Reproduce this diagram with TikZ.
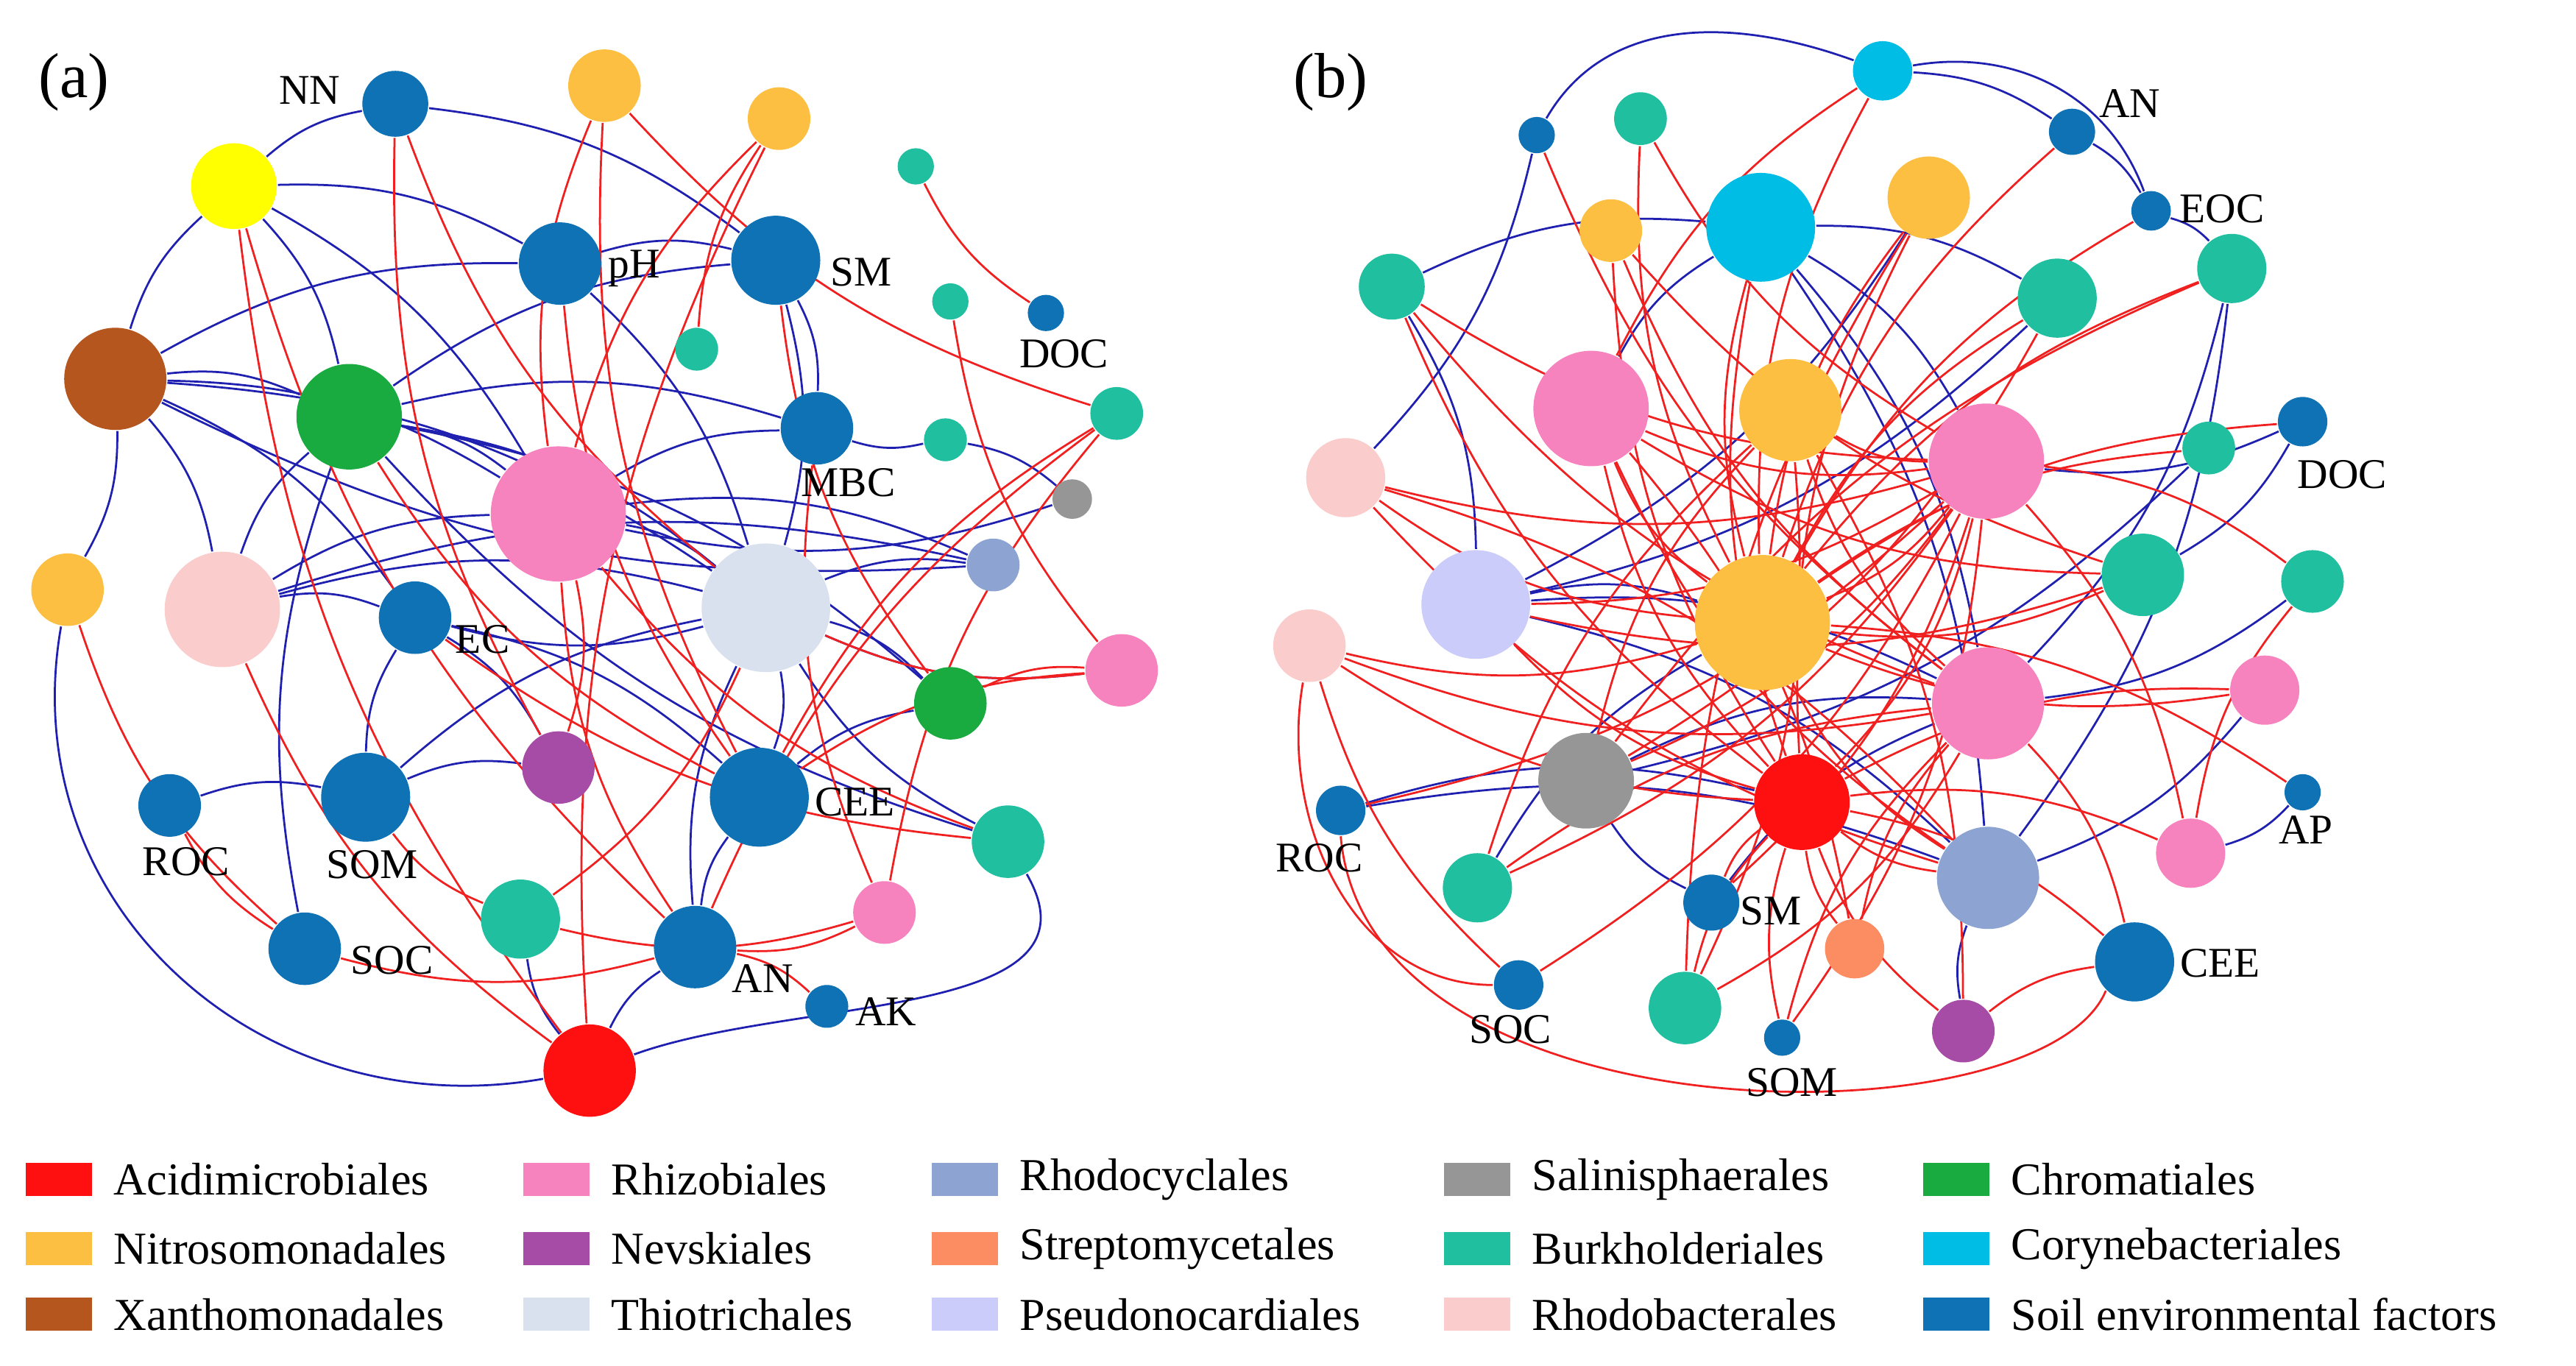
\documentclass[tikz,border=0pt]{standalone}
\usepackage{fontspec}
\setmainfont{Liberation Serif}
\usetikzlibrary{backgrounds}
\definecolor{cAci}{HTML}{FF1010}
\definecolor{cNit}{HTML}{FDBF41}
\definecolor{cXan}{HTML}{B5561E}
\definecolor{cRhi}{HTML}{F783BE}
\definecolor{cNev}{HTML}{A64CA6}
\definecolor{cThi}{HTML}{D9E1EF}
\definecolor{cRhc}{HTML}{8DA3D2}
\definecolor{cStr}{HTML}{FC8D62}
\definecolor{cPse}{HTML}{CCCCFA}
\definecolor{cSal}{HTML}{969696}
\definecolor{cBur}{HTML}{1FBFA0}
\definecolor{cRhb}{HTML}{FBCCCC}
\definecolor{cChr}{HTML}{1AAB40}
\definecolor{cCor}{HTML}{00BDE6}
\definecolor{cSoil}{HTML}{0E72B5}
\definecolor{cYel}{HTML}{FFFF00}
\definecolor{eR}{HTML}{F02020}
\definecolor{eB}{HTML}{2020B0}
\tikzset{
 n/.style 2 args={circle,fill=#1,minimum size={#2*0.02cm},inner sep=0pt},
 lab/.style={font=\fontsize{7.3}{8}\selectfont,inner sep=0pt},
 er/.style={draw=eR,line width=0.35pt},
 eb/.style={draw=eB,line width=0.35pt},
 leg/.style={fill=#1,minimum width=0.4cm,minimum height=0.2cm,inner sep=0pt},
 lt/.style={font=\fontsize{7.9}{9}\selectfont,anchor=west,inner sep=0pt},
 pl/.style={font=\fontsize{11}{12}\selectfont,inner sep=0pt}
}
\begin{document}
\begin{tikzpicture}[x=0.01cm,y=-0.01cm]
\useasboundingbox (0,0) rectangle (1564,829);
\node[pl] (pa) at (45,50) {(a)};
\node[pl] (pb) at (808,50) {(b)};
% panel a
\node[n={cSoil}{20}] (aNN) at (240,63) {};
\node[n={cNit}{22}] (aO1) at (367,52) {};
\node[n={cNit}{19}] (aO2) at (473,72) {};
\node[n={cYel}{26}] (aY) at (142,113) {};
\node[n={cSoil}{25}] (apH) at (340,160) {};
\node[n={cSoil}{27}] (aSM) at (471,158) {};
\node[n={cBur}{11}] (aT1) at (556,101) {};
\node[n={cBur}{11}] (aT2) at (577,183) {};
\node[n={cSoil}{11}] (aDOC) at (635,190) {};
\node[n={cBur}{13}] (aT3) at (423,212) {};
\node[n={cXan}{31}] (aBr) at (70,230) {};
\node[n={cChr}{32}] (aG1) at (212,253) {};
\node[n={cSoil}{22}] (aMBC) at (496,260) {};
\node[n={cBur}{13}] (aT4) at (574,267) {};
\node[n={cBur}{16}] (aT5) at (678,251) {};
\node[n={cSal}{12}] (aGr) at (651,303) {};
\node[n={cRhi}{41}] (aPk1) at (339,312) {};
\node[n={cRhc}{16}] (aRc) at (603,343) {};
\node[n={cNit}{22}] (aO3) at (41,358) {};
\node[n={cRhb}{35}] (aPP) at (135,370) {};
\node[n={cSoil}{22}] (aEC) at (252,375) {};
\node[n={cThi}{39}] (aTh) at (465,369) {};
\node[n={cRhi}{22}] (aPk2) at (681,407) {};
\node[n={cChr}{22}] (aG2) at (577,427) {};
\node[n={cNev}{22}] (aPu) at (339,466) {};
\node[n={cSoil}{19}] (aROC) at (103,489) {};
\node[n={cSoil}{27}] (aSOM) at (222,484) {};
\node[n={cSoil}{30}] (aCEE) at (461,484) {};
\node[n={cBur}{22}] (aT6) at (612,511) {};
\node[n={cBur}{24}] (aT7) at (316,558) {};
\node[n={cRhi}{19}] (aPk3) at (537,554) {};
\node[n={cSoil}{22}] (aSOC) at (185,576) {};
\node[n={cSoil}{25}] (aAN) at (422,575) {};
\node[n={cSoil}{13}] (aAK) at (502,611) {};
\node[n={cAci}{28}] (aR) at (358,650) {};
\node[lab] (lNN) at (188,55) {NN};
\node[lab] (lpH) at (385,163) {pH};
\node[lab] (lSM) at (523,165) {SM};
\node[lab] (lDOC) at (646,215) {DOC};
\node[lab] (lMBC) at (515,293) {MBC};
\node[lab] (lEC) at (293,388) {EC};
\node[lab] (lROC) at (113,523) {ROC};
\node[lab] (lSOM) at (226,525) {SOM};
\node[lab] (lCEE) at (519,487) {CEE};
\node[lab] (lSOC) at (238,583) {SOC};
\node[lab] (lAN) at (463,594) {AN};
\node[lab] (lAK) at (538,614) {AK};
% panel b
\node[n={cSoil}{11}] (bB1) at (933,82) {};
\node[n={cBur}{16}] (bT1) at (996,72) {};
\node[n={cCor}{18}] (bC1) at (1143,43) {};
\node[n={cSoil}{14}] (bAN) at (1258,80) {};
\node[n={cSoil}{12}] (bEOC) at (1306,128) {};
\node[n={cNit}{19}] (bO1) at (978,140) {};
\node[n={cCor}{33}] (bC2) at (1069,138) {};
\node[n={cNit}{25}] (bO2) at (1171,120) {};
\node[n={cBur}{21}] (bT2) at (1355,163) {};
\node[n={cBur}{20}] (bT3) at (845,174) {};
\node[n={cBur}{24}] (bT4) at (1249,181) {};
\node[n={cRhi}{35}] (bPk1) at (966,248) {};
\node[n={cNit}{31}] (bO3) at (1087,249) {};
\node[n={cRhi}{35}] (bPk2) at (1206,280) {};
\node[n={cBur}{16}] (bT5) at (1341,272) {};
\node[n={cSoil}{15}] (bDOC) at (1398,256) {};
\node[n={cRhb}{24}] (bPP1) at (817,290) {};
\node[n={cBur}{25}] (bT6) at (1301,349) {};
\node[n={cBur}{19}] (bT7) at (1404,353) {};
\node[n={cPse}{33}] (bPs) at (896,367) {};
\node[n={cRhb}{22}] (bPP2) at (795,392) {};
\node[n={cNit}{41}] (bO4) at (1070,378) {};
\node[n={cRhi}{34}] (bPk3) at (1207,427) {};
\node[n={cRhi}{21}] (bPk4) at (1375,419) {};
\node[n={cSoil}{11}] (bAP) at (1398,481) {};
\node[n={cSal}{29}] (bGr) at (963,474) {};
\node[n={cAci}{29}] (bR) at (1094,487) {};
\node[n={cSoil}{15}] (bROC) at (814,492) {};
\node[n={cRhi}{21}] (bPk5) at (1330,518) {};
\node[n={cBur}{21}] (bT8) at (897,539) {};
\node[n={cRhc}{31}] (bRc) at (1207,533) {};
\node[n={cSoil}{17}] (bSM) at (1039,548) {};
\node[n={cStr}{18}] (bSt) at (1126,576) {};
\node[n={cSoil}{24}] (bCEE) at (1296,584) {};
\node[n={cSoil}{15}] (bSOC) at (922,598) {};
\node[n={cBur}{22}] (bT9) at (1023,612) {};
\node[n={cSoil}{11}] (bSOM) at (1082,630) {};
\node[n={cNev}{19}] (bPu) at (1192,626) {};
\node[lab] (lbAN) at (1293,63) {AN};
\node[lab] (lbEOC) at (1349,127) {EOC};
\node[lab] (lbDOC) at (1422,288) {DOC};
\node[lab] (lbAP) at (1400,504) {AP};
\node[lab] (lbROC) at (801,521) {ROC};
\node[lab] (lbSM) at (1075,553) {SM};
\node[lab] (lbCEE) at (1348,585) {CEE};
\node[lab] (lbSOC) at (917,625) {SOC};
\node[lab] (lbSOM) at (1088,657) {SOM};
\begin{pgfonlayer}{background}
\foreach \a/\b in {aBr/aG1,aBr/aPP,aBr/aPk1,aBr/aTh,aBr/aEC,aBr/aO3,aBr/aY,aBr/apH,aG1/aTh,aG1/aPk1,aG1/aMBC,aG1/aSM,aPP/aPk1,aPP/aTh,aPP/aEC,aPP/aG1,aY/aNN,aY/apH,aY/aG1,aY/aPk1,aNN/aSM,apH/aSM,apH/aTh,aSM/aMBC,aSM/aTh,aTh/aRc,aTh/aG2,aTh/aCEE,aTh/aEC,aPk1/aTh,aPk1/aMBC,aPk1/aRc,aEC/aPu,aEC/aCEE,aSOM/aPu,aSOM/aEC,aROC/aSOM,aR/aAN,aR/aT7,aAN/aCEE,aAN/aTh,aCEE/aG2,aT6/aTh,aT6/aG1,aT4/aMBC,aT4/aGr,aGr/aPk1,aRc/aBr,aSOC/aG1,aPk2/aTh,aPP/aRc,aG1/aG2,aSOM/aTh}
 \draw[eb] (\a) to[bend left=15] (\b);
\draw[eb] (aR) to[out=190,in=260,looseness=1.1] (aO3);
\draw[eb] (aR) to[out=20,in=-60,looseness=1] (aT6);
\foreach \a/\b in {aO1/aPk1,aO1/aCEE,aO2/aT3,aO2/aPk1,aO2/aR,aSM/aG2,aT1/aDOC,aT5/aAN,aT5/aPk3,aPk2/aG2,aPk2/aCEE,aY/aR,aY/aAN,aO3/aSOC,aPP/aR,aG1/aCEE,aPk1/aAN,aPk1/aT6,apH/aCEE,aNN/aTh,aNN/aPu,aROC/aSOC,aSOC/aAN,aAN/aPk3,aAK/aAN,aT7/aPk3,aT7/aTh,aSOM/aT7,aPu/aPk1,aMBC/aPk3,aT2/aPk2,aEC/aT6,aT5/aCEE,aO1/aT5,aTh/aPk2}
 \draw[er] (\a) to[bend right=15] (\b);
\foreach \a/\b in {bB1/bPP1,bC1/bAN,bAN/bEOC,bEOC/bT2,bC2/bT4,bC2/bPk2,bC2/bPk3,bC2/bRc,bT3/bPs,bT3/bC2,bDOC/bPk2,bDOC/bT6,bT7/bPk3,bPk4/bRc,bPs/bPk3,bPs/bO4,bGr/bPk3,bROC/bR,bROC/bRc,bSM/bGr,bSM/bPk3,bPu/bRc,bT8/bO4,bT2/bPk3,bT4/bPs,bAP/bPk5,bT5/bGr,bO2/bPs,bPk1/bC2,bT2/bRc,bPs/bRc}
 \draw[eb] (\a) to[bend left=15] (\b);
\draw[eb] (bB1) to[out=60,in=160] (bC1);
\draw[eb] (bC1) to[out=10,in=110] (bEOC);
\foreach \a/\b in {bPP1/bO4,bPP1/bPk2,bPP2/bO4,bPP2/bR,bPP2/bSOC,bPk1/bPk2,bPk1/bO4,bPk1/bR,bPk1/bT6,bO3/bPk3,bO3/bPk2,bO3/bGr,bO3/bT8,bO4/bPk2,bO4/bRc,bO4/bT6,bO4/bPk4,bR/bPk2,bR/bRc,bR/bT9,bR/bSOM,bR/bSt,bR/bPu,bR/bSM,bGr/bPk2,bGr/bT4,bO1/bPk3,bO1/bR,bO2/bO4,bO2/bT9,bO2/bR,bC2/bO4,bC2/bR,bT1/bO4,bT1/bPk2,bT4/bO4,bT5/bO4,bPs/bPk2,bPs/bR,bPs/bT6,bPk3/bSt,bPk3/bT8,bPk3/bSOM,bPk4/bR,bPk5/bPk2,bPk5/bR,bCEE/bR,bCEE/bPu,bCEE/bPk3,bT7/bPk2,bT7/bPk5,bT2/bO4,bT2/bGr,bDOC/bO4,bAP/bO4,bT8/bPk2,bSOC/bPk2,bSOM/bPk2,bROC/bPk2,bPu/bO3,bT3/bPk3,bT3/bR,bSt/bPk1,bT9/bO3,bB1/bPk3,bEOC/bO4,bAN/bO4,bRc/bPP1,bSM/bPk2,bT9/bPk3,bPP2/bPk3,bPk1/bRc,bO1/bT6,bC1/bPk1,bC1/bO4,bT3/bPk2,bPP1/bRc}
 \draw[er] (\a) to[bend right=15] (\b);
\draw[er] (bROC.south) .. controls (830,695) and (1240,695) .. (bCEE.south west);
\draw[er] (bPP2) to[out=260,in=180] (bSOC);
\end{pgfonlayer}
% legend
\foreach \c/\t/\x/\y [count=\i] in {
 cAci/Acidimicrobiales/15/716, cNit/Nitrosomonadales/15/758, cXan/Xanthomonadales/15/798,
 cRhi/Rhizobiales/317/716, cNev/Nevskiales/317/758, cThi/Thiotrichales/317/798,
 cRhc/Rhodocyclales/565/716, cStr/Streptomycetales/565/758, cPse/Pseudonocardiales/565/798,
 cSal/Salinisphaerales/876/716, cBur/Burkholderiales/876/758, cRhb/Rhodobacterales/876/798,
 cChr/Chromatiales/1167/716, cCor/Corynebacteriales/1167/758, cSoil/Soil environmental factors/1167/798}
 {\node[leg=\c,anchor=west] (sq\i) at (\x,\y) {};
  \node[lt] (tx\i) at ([xshift=0.12cm]sq\i.east) {\t};}
\end{tikzpicture}
\end{document}
